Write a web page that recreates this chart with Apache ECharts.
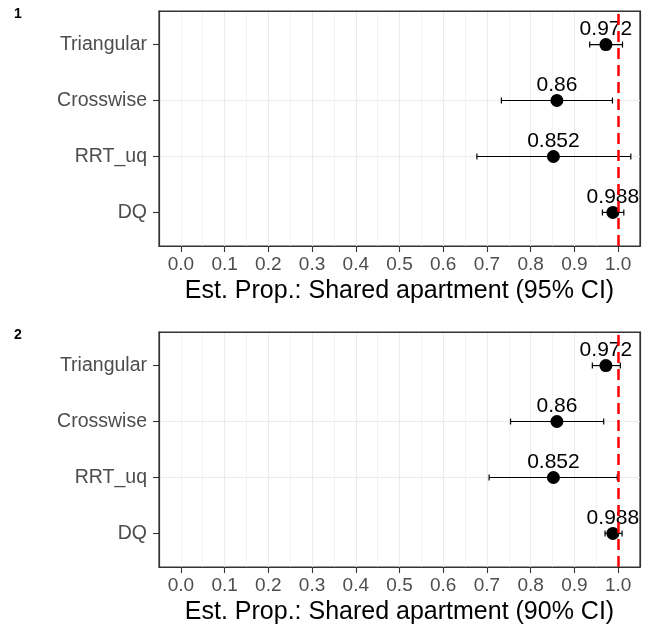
<!DOCTYPE html>
<html>
<head>
<meta charset="utf-8">
<script src="https://cdn.jsdelivr.net/npm/echarts@6/dist/echarts.min.js"></script>
<style>
  html, body { margin: 0; padding: 0; background: #fff; }
  #chart { width: 653px; height: 631px; }
</style>
</head>
<body>
<div id="chart"></div>
<script>
// data
var categories = ['Triangular', 'Crosswise', 'RRT_uq', 'DQ'];
var estimates = [0.972, 0.86, 0.852, 0.988];
var lower95 = [0.935, 0.733, 0.677, 0.964];
var upper95 = [1.010, 0.987, 1.029, 1.013];
var lower90 = [0.941, 0.754, 0.705, 0.970];
var upper90 = [1.005, 0.967, 0.998, 1.009];
var xTickValues = [0, 0.1, 0.2, 0.3, 0.4, 0.5, 0.6, 0.7, 0.8, 0.9, 1.0];
var xTickLabels = ['0.0', '0.1', '0.2', '0.3', '0.4', '0.5', '0.6', '0.7', '0.8', '0.9', '1.0'];
var refValue = 1.0;
var panelTitles = ['Est. Prop.: Shared apartment (95% CI)', 'Est. Prop.: Shared apartment (90% CI)'];
var panelTags = ['1', '2'];

var FONT = 'Liberation Sans, Arial, Helvetica, sans-serif';
var BORDER = { color: '#333333', width: 1.2 };

// categories go top -> bottom, so Triangular gets the highest y value
function catPos(i) { return categories.length - i; }

var yTickValues = categories.map(function (c, i) { return catPos(i); });

function renderErrorBar(params, api) {
  var y = api.value(0);
  var lo = api.coord([api.value(1), y]);
  var hi = api.coord([api.value(2), y]);
  var h = 3;
  var st = { stroke: '#000', lineWidth: 1.2 };
  return {
    type: 'group',
    children: [
      { type: 'line', shape: { x1: lo[0], y1: lo[1], x2: hi[0], y2: hi[1] }, style: st },
      { type: 'line', shape: { x1: lo[0], y1: lo[1] - h, x2: lo[0], y2: lo[1] + h }, style: st },
      { type: 'line', shape: { x1: hi[0], y1: hi[1] - h, x2: hi[0], y2: hi[1] + h }, style: st }
    ]
  };
}

var panelTops = [11, 332];
var lows = [lower95, lower90];
var highs = [upper95, upper90];

var grids = [], xAxes = [], yAxes = [], series = [], titles = [];

panelTops.forEach(function (top, p) {
  grids.push({
    left: 159, right: 13, top: top, height: 235,
    outerBoundsMode: 'none', containLabel: false,
    show: true, borderColor: '#333333', borderWidth: 1.2, backgroundColor: '#fff'
  });
  // minor grid lines every 0.05 (and the top border)
  xAxes.push({
    type: 'value', gridIndex: p, position: 'top', min: -0.05, max: 1.05, interval: 0.05,
    axisLine: { show: true, onZero: false, lineStyle: BORDER }, axisTick: { show: false }, axisLabel: { show: false },
    splitLine: { show: true, showMinLine: false, showMaxLine: false, lineStyle: { color: '#EBEBEB', width: 0.6 } }
  });
  // major axis with labels
  xAxes.push({
    type: 'value', gridIndex: p, position: 'bottom', min: -0.05, max: 1.05,
    name: panelTitles[p], nameLocation: 'middle', nameGap: 33,
    nameTextStyle: { color: '#000', fontSize: 25, fontFamily: FONT },
    axisLine: { show: true, onZero: false, lineStyle: BORDER },
    axisTick: { show: true, length: 6, customValues: xTickValues, lineStyle: { color: '#333333', width: 1.1 } },
    axisLabel: {
      customValues: xTickValues, margin: 9, color: '#4D4D4D', fontSize: 19, fontFamily: FONT,
      formatter: function (v) {
        var k = xTickValues.findIndex(function (t) { return Math.abs(t - v) < 1e-9; });
        return k >= 0 ? xTickLabels[k] : '';
      }
    },
    splitLine: { show: true, showMinLine: false, showMaxLine: false, lineStyle: { color: '#EBEBEB', width: 1.1 } }
  });
  yAxes.push({
    type: 'value', gridIndex: p, position: 'left', min: 0.4, max: 4.6,
    axisLine: { show: true, onZero: false, lineStyle: BORDER },
    axisTick: { show: true, length: 6, customValues: yTickValues, lineStyle: { color: '#333333', width: 1.1 } },
    axisLabel: {
      customValues: yTickValues, margin: 12, color: '#4D4D4D', fontSize: 19.5, fontFamily: FONT,
      formatter: function (v) { return categories[categories.length - Math.round(v)] || ''; }
    },
    splitLine: { show: true, showMinLine: false, showMaxLine: false, lineStyle: { color: '#EBEBEB', width: 1.1 } }
  });
  // right border only
  yAxes.push({
    type: 'value', gridIndex: p, position: 'right', min: 0.4, max: 4.6,
    axisLine: { show: true, onZero: false, lineStyle: BORDER },
    axisTick: { show: false }, axisLabel: { show: false }, splitLine: { show: false }
  });

  var majorX = p * 2 + 1;
  var yIdx = p * 2;
  series.push({
    type: 'custom', xAxisIndex: majorX, yAxisIndex: yIdx,
    renderItem: renderErrorBar,
    encode: { x: [1, 2], y: 0 },
    data: categories.map(function (c, i) { return [catPos(i), lows[p][i], highs[p][i]]; }),
    z: 3
  });
  series.push({
    type: 'scatter', xAxisIndex: majorX, yAxisIndex: yIdx,
    symbol: 'circle', symbolSize: 13,
    itemStyle: { color: '#000', opacity: 1 },
    label: {
      show: true, position: 'top', distance: -2,
      color: '#000', fontSize: 21, fontFamily: FONT,
      formatter: function (d) { return String(d.value[0]); }
    },
    data: categories.map(function (c, i) { return [estimates[i], catPos(i)]; }),
    z: 4
  });
  series.push({
    type: 'line', xAxisIndex: majorX, yAxisIndex: yIdx, data: [],
    z: 10,
    markLine: {
      silent: true, symbol: ['none', 'none'], label: { show: false },
      lineStyle: { color: '#FF0000', width: 2.5, type: [11, 6] },
      data: [{ xAxis: refValue }],
      z: 10
    }
  });

  titles.push({
    text: panelTags[p], left: 9, top: top - 9,
    textStyle: { fontSize: 14, fontWeight: 'bold', color: '#000', fontFamily: FONT }
  });
});

var chart = echarts.init(document.getElementById('chart'), null, { renderer: 'canvas' });
chart.setOption({
  animation: false,
  backgroundColor: '#fff',
  title: titles,
  grid: grids,
  xAxis: xAxes,
  yAxis: yAxes,
  series: series
});
</script>
</body>
</html>
